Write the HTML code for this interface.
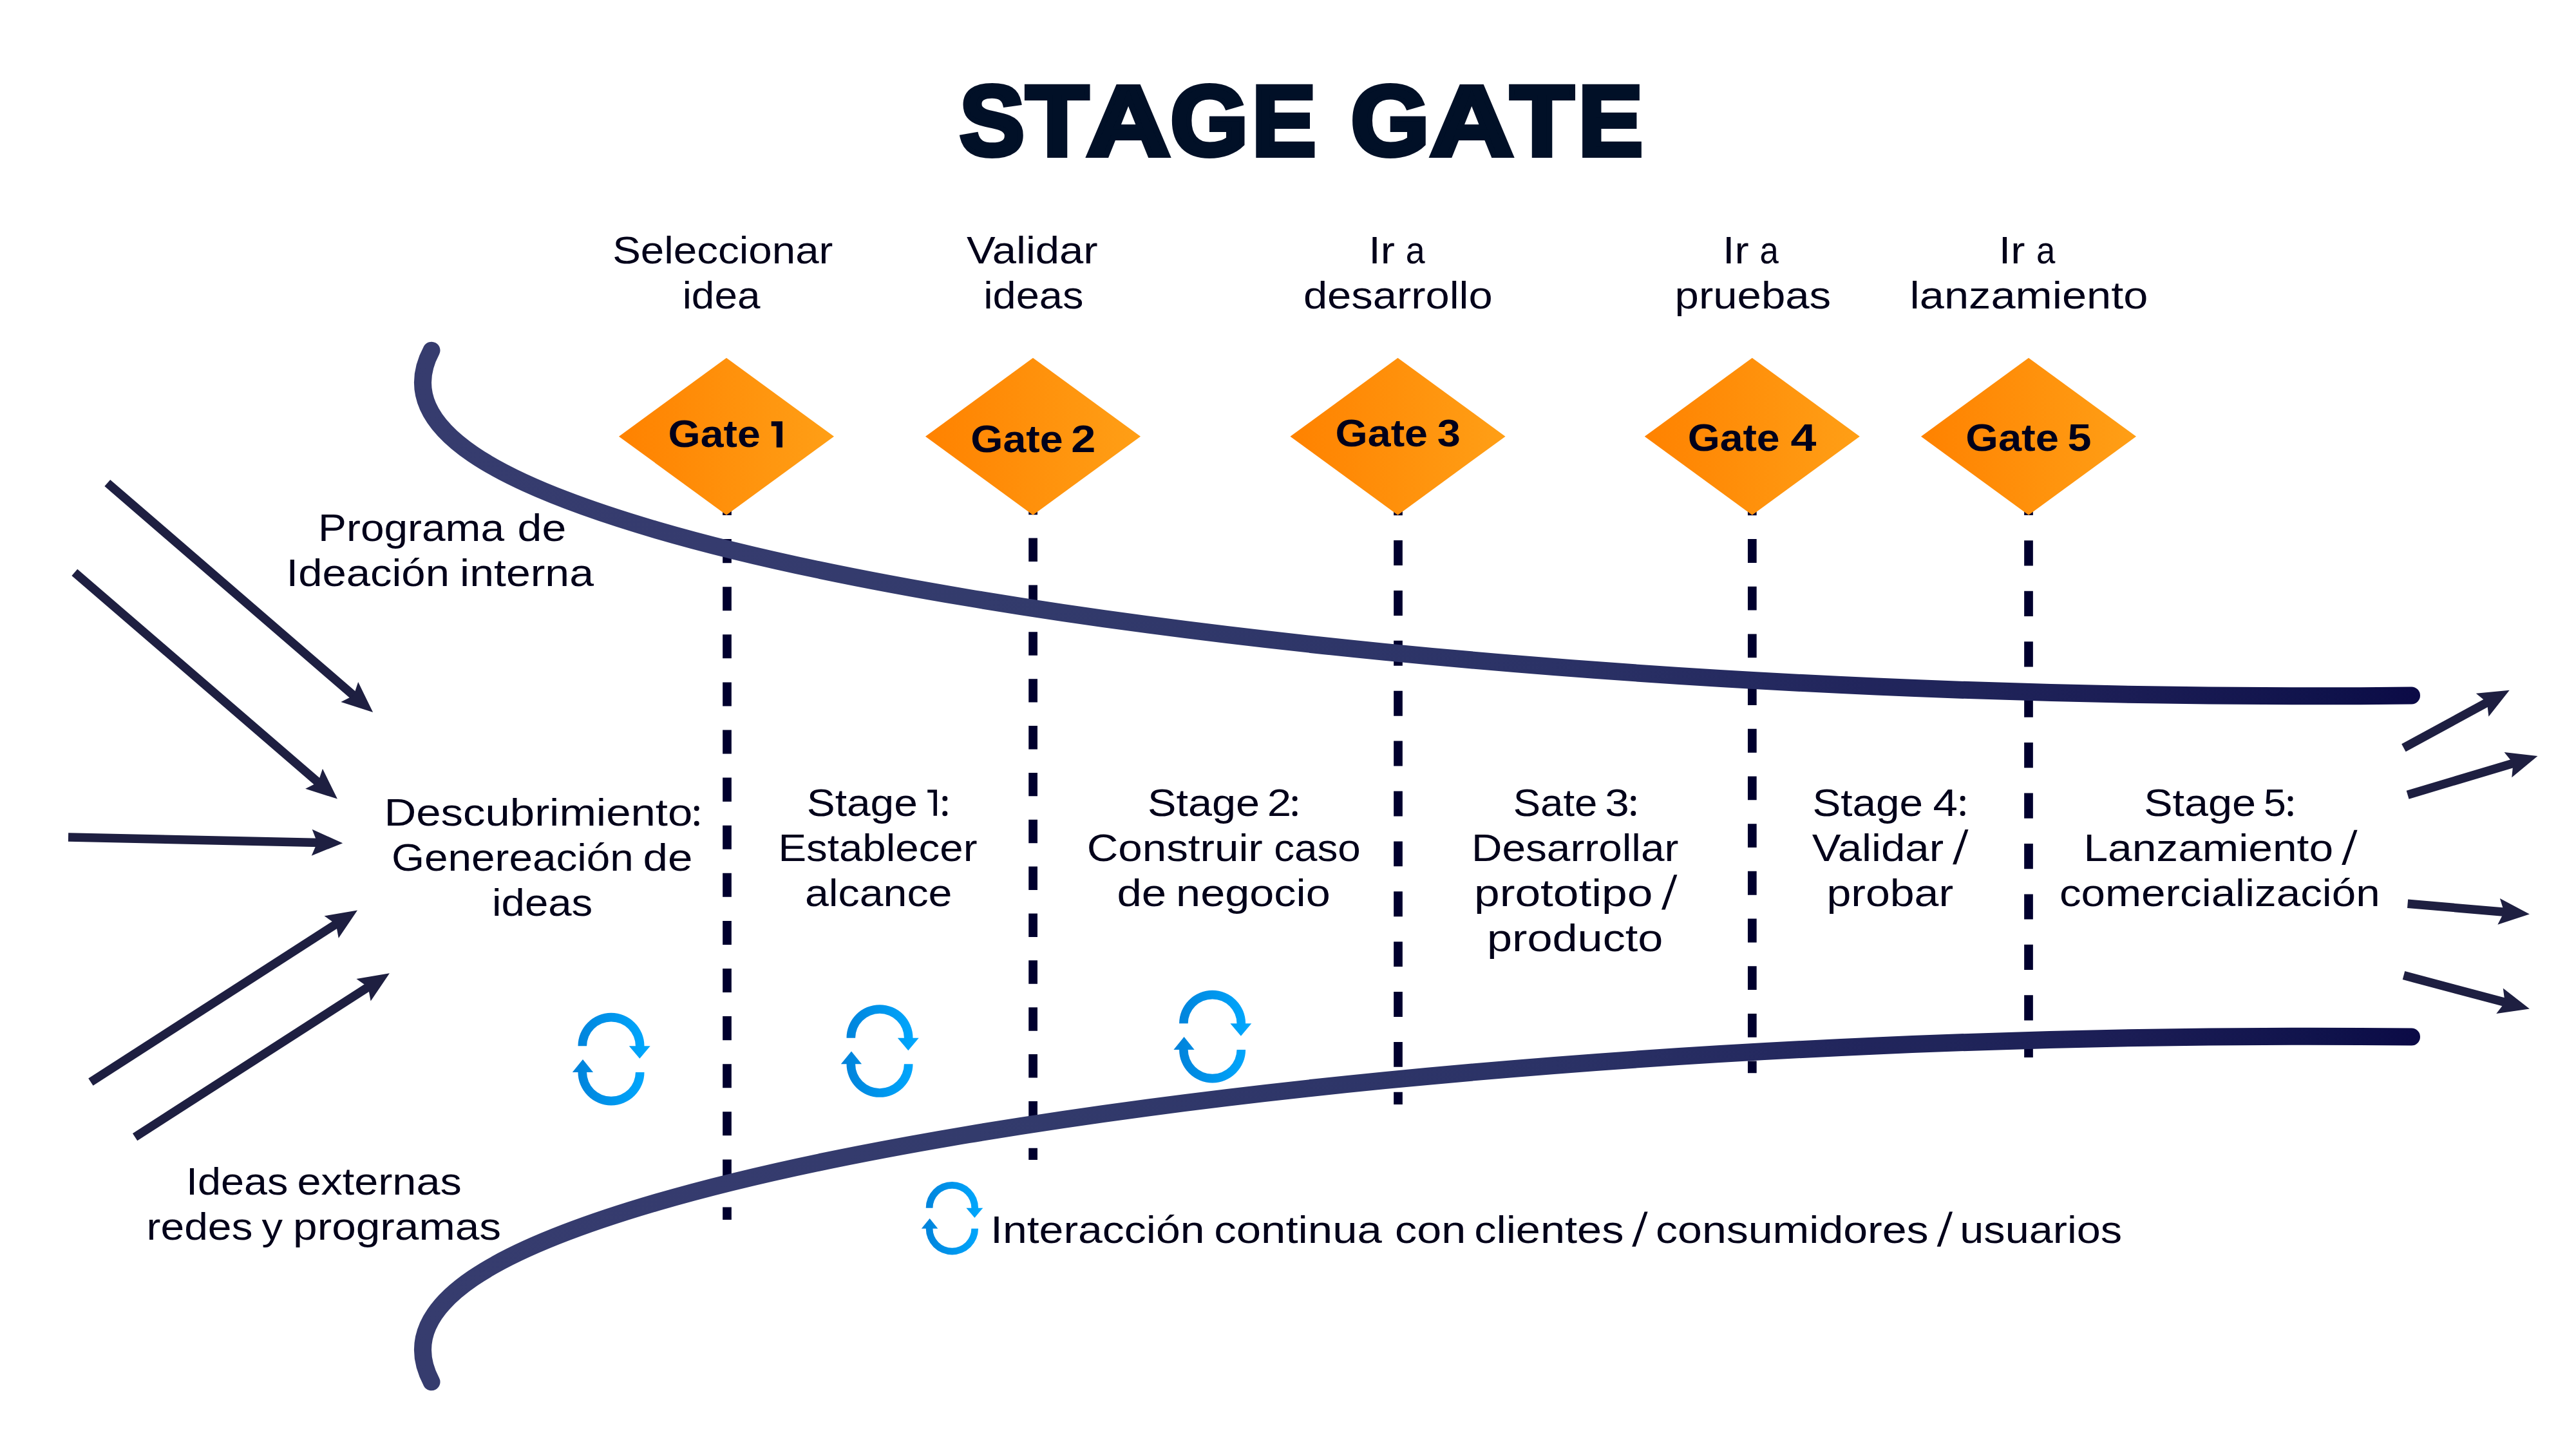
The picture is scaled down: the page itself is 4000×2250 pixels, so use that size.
<!DOCTYPE html>
<html><head><meta charset="utf-8"><title>Stage Gate</title>
<style>html,body{margin:0;padding:0;background:#fff;width:4000px;height:2250px;overflow:hidden}svg{display:block}text{font-family:"Liberation Sans",sans-serif}</style>
</head><body>
<svg width="4000" height="2250" viewBox="0 0 4000 2250">
<defs>
<linearGradient id="og" x1="0" y1="0" x2="1" y2="0"><stop offset="0" stop-color="#ff8200"/><stop offset="1" stop-color="#ff9f16"/></linearGradient>
<linearGradient id="cg" gradientUnits="userSpaceOnUse" x1="643" y1="0" x2="3758" y2="0"><stop offset="0" stop-color="#363c6e"/><stop offset="0.15" stop-color="#353b6e"/><stop offset="0.28" stop-color="#333b6c"/><stop offset="0.567" stop-color="#2b3266"/><stop offset="0.7245" stop-color="#21255c"/><stop offset="0.763" stop-color="#20255a"/><stop offset="0.853" stop-color="#1b1d55"/><stop offset="0.956" stop-color="#0f124b"/><stop offset="1" stop-color="#0b0a46"/></linearGradient>
<linearGradient id="bg" x1="0" y1="0" x2="1" y2="0"><stop offset="0" stop-color="#0081d9"/><stop offset="1" stop-color="#00a9ff"/></linearGradient>
<path id="ic" d="M-51.5,-20.3 A51.5,51.5 0 0 1 51.5,-20.3 L37.9,-20.3 A37.9,37.9 0 0 0 -37.9,-20.3 Z M27.8,-20.3 L60.7,-20.3 L44.3,-0.8 Z M-51.5,20.3 A51.5,51.5 0 0 0 51.5,20.3 L37.9,20.3 A37.9,37.9 0 0 1 -37.9,20.3 Z M-60.2,20.3 L-27.9,20.3 L-44,0.4 Z" fill="url(#bg)"/>
</defs>
<line x1="1129" y1="763" x2="1129" y2="1893.9" stroke="#00002e" stroke-width="13.7" stroke-dasharray="37.05 37.05"/>
<line x1="1604.1" y1="762.74" x2="1604.1" y2="1801" stroke="#00002e" stroke-width="13.7" stroke-dasharray="36.43 36.43"/>
<line x1="2171" y1="761.22" x2="2171" y2="1715" stroke="#00002e" stroke-width="13.7" stroke-dasharray="38.94 38.94"/>
<line x1="2720.8" y1="763.42" x2="2720.8" y2="1666.3" stroke="#00002e" stroke-width="13.7" stroke-dasharray="36.84 36.84"/>
<line x1="3150" y1="760.87" x2="3150" y2="1642" stroke="#00002e" stroke-width="13.7" stroke-dasharray="39.22 39.22"/>
<path d="M670,544.2 C603.57,668.83 791.45,756.26 1020.37,823.18 C1533.4,973.15 2612.34,1091.96 3744.5,1080" fill="none" stroke="url(#cg)" stroke-width="27" stroke-linecap="round"/>
<path d="M670,2145.8 C603.57,2021.17 791.45,1933.74 1020.37,1866.82 C1533.4,1716.85 2612.34,1598.04 3744.5,1610" fill="none" stroke="url(#cg)" stroke-width="27" stroke-linecap="round"/>
<polygon points="1128,555.7 1295,677.7 1128,799.7 961,677.7" fill="url(#og)"/>
<polygon points="1604,555.7 1771,677.7 1604,799.7 1437,677.7" fill="url(#og)"/>
<polygon points="2170.5,555.7 2337.5,677.7 2170.5,799.7 2003.5,677.7" fill="url(#og)"/>
<polygon points="2720.75,555.7 2887.75,677.7 2720.75,799.7 2553.75,677.7" fill="url(#og)"/>
<polygon points="3150,555.7 3317,677.7 3150,799.7 2983,677.7" fill="url(#og)"/>
<line x1="166.8" y1="750" x2="551.85" y2="1082.38" stroke="#1e1f41" stroke-width="13.5"/><polygon points="579.1,1105.9 556.16,1059.02 549.12,1080.02 529.37,1090.05" fill="#1e1f41"/>
<line x1="115.8" y1="888.8" x2="496.63" y2="1217.09" stroke="#1e1f41" stroke-width="13.5"/><polygon points="523.9,1240.6 500.93,1193.73 493.91,1214.74 474.16,1224.79" fill="#1e1f41"/>
<line x1="106" y1="1300" x2="496.21" y2="1308.42" stroke="#1e1f41" stroke-width="13.5"/><polygon points="532.2,1309.2 484.65,1287.67 492.61,1308.35 483.77,1328.66" fill="#1e1f41"/>
<line x1="140.9" y1="1680.1" x2="524.73" y2="1433.08" stroke="#1e1f41" stroke-width="13.5"/><polygon points="555,1413.6 503.54,1422.34 521.7,1435.03 525.73,1456.82" fill="#1e1f41"/>
<line x1="209.6" y1="1765.6" x2="574.62" y2="1530.78" stroke="#1e1f41" stroke-width="13.5"/><polygon points="604.9,1511.3 553.44,1520.03 571.6,1532.72 575.62,1554.51" fill="#1e1f41"/>
<line x1="3732.4" y1="1161.3" x2="3865.09" y2="1089.02" stroke="#1e1f41" stroke-width="13.5"/><polygon points="3896.7,1071.8 3844.74,1076.76 3861.92,1090.74 3864.35,1112.76" fill="#1e1f41"/>
<line x1="3738.6" y1="1234.2" x2="3905.91" y2="1184.21" stroke="#1e1f41" stroke-width="13.5"/><polygon points="3940.4,1173.9 3888.54,1168 3902.46,1185.24 3900.28,1207.28" fill="#1e1f41"/>
<line x1="3738.6" y1="1403.3" x2="3892.03" y2="1416.43" stroke="#1e1f41" stroke-width="13.5"/><polygon points="3927.9,1419.5 3881.82,1394.98 3888.44,1416.12 3878.33,1435.83" fill="#1e1f41"/>
<line x1="3732.5" y1="1514.6" x2="3893.11" y2="1557.34" stroke="#1e1f41" stroke-width="13.5"/><polygon points="3927.9,1566.6 3886.79,1534.45 3889.63,1556.42 3876.24,1574.07" fill="#1e1f41"/>
<use href="#ic" x="0" y="0" transform="translate(949 1644.6)"/>
<use href="#ic" x="0" y="0" transform="translate(1366 1632)"/>
<use href="#ic" x="0" y="0" transform="translate(1882.6 1609.6)"/>
<use href="#ic" transform="translate(1478.4 1891.7) scale(0.79)"/>
<text class="g0" x="1540.45" y="241.2" font-size="153.5" font-weight="700" fill="#011027" stroke="#011027" stroke-width="8" stroke-linejoin="miter" text-anchor="middle" textLength="100.5" lengthAdjust="spacingAndGlyphs">S</text>
<text class="g1" x="1641.65" y="241.2" font-size="153.5" font-weight="700" fill="#011027" stroke="#011027" stroke-width="8" stroke-linejoin="miter" text-anchor="middle" textLength="96.9" lengthAdjust="spacingAndGlyphs">T</text>
<text class="g0" x="1752.05" y="241.2" font-size="153.5" font-weight="700" fill="#011027" stroke="#011027" stroke-width="8" stroke-linejoin="miter" text-anchor="middle" textLength="129.3" lengthAdjust="spacingAndGlyphs">A</text>
<text class="g1" x="1877.8" y="241.2" font-size="153.5" font-weight="700" fill="#011027" stroke="#011027" stroke-width="8" stroke-linejoin="miter" text-anchor="middle" textLength="120.6" lengthAdjust="spacingAndGlyphs">G</text>
<text class="g0" x="1993.85" y="241.2" font-size="153.5" font-weight="700" fill="#011027" stroke="#011027" stroke-width="8" stroke-linejoin="miter" text-anchor="middle" textLength="99.1" lengthAdjust="spacingAndGlyphs">E</text>
<text class="g1" x="2158.6" y="241.2" font-size="153.5" font-weight="700" fill="#011027" stroke="#011027" stroke-width="8" stroke-linejoin="miter" text-anchor="middle" textLength="121.6" lengthAdjust="spacingAndGlyphs">G</text>
<text class="g0" x="2285.2" y="241.2" font-size="153.5" font-weight="700" fill="#011027" stroke="#011027" stroke-width="8" stroke-linejoin="miter" text-anchor="middle" textLength="129" lengthAdjust="spacingAndGlyphs">A</text>
<text class="g1" x="2394.65" y="241.2" font-size="153.5" font-weight="700" fill="#011027" stroke="#011027" stroke-width="8" stroke-linejoin="miter" text-anchor="middle" textLength="98.1" lengthAdjust="spacingAndGlyphs">T</text>
<text class="g0" x="2500.9" y="241.2" font-size="153.5" font-weight="700" fill="#011027" stroke="#011027" stroke-width="8" stroke-linejoin="miter" text-anchor="middle" textLength="99.8" lengthAdjust="spacingAndGlyphs">E</text>
<text class="g0" x="1122.3" y="409" font-size="59.3" font-weight="400" fill="#03021a" text-anchor="middle" textLength="342.2" lengthAdjust="spacingAndGlyphs">Seleccionar</text>
<text class="g0" x="1120.05" y="478.6" font-size="59.3" font-weight="400" fill="#03021a" text-anchor="middle" textLength="120.7" lengthAdjust="spacingAndGlyphs">idea</text>
<text class="g0" x="1602.85" y="408.8" font-size="59.3" font-weight="400" fill="#03021a" text-anchor="middle" textLength="203.7" lengthAdjust="spacingAndGlyphs">Validar</text>
<text class="g0" x="1604.8" y="478.9" font-size="59.3" font-weight="400" fill="#03021a" text-anchor="middle" textLength="155.2" lengthAdjust="spacingAndGlyphs">ideas</text>
<text class="g0" x="2145.65" y="408.9" font-size="59.3" font-weight="400" fill="#03021a" text-anchor="middle" textLength="40.7" lengthAdjust="spacingAndGlyphs">Ir</text>
<text class="g1" x="2197.65" y="408.9" font-size="59.3" font-weight="400" fill="#03021a" text-anchor="middle" textLength="29.9" lengthAdjust="spacingAndGlyphs">a</text>
<text class="g0" x="2170.8" y="478.7" font-size="59.3" font-weight="400" fill="#03021a" text-anchor="middle" textLength="293.8" lengthAdjust="spacingAndGlyphs">desarrollo</text>
<text class="g0" x="2695.35" y="409" font-size="59.3" font-weight="400" fill="#03021a" text-anchor="middle" textLength="40.7" lengthAdjust="spacingAndGlyphs">Ir</text>
<text class="g1" x="2747.05" y="409" font-size="59.3" font-weight="400" fill="#03021a" text-anchor="middle" textLength="29.3" lengthAdjust="spacingAndGlyphs">a</text>
<text class="g0" x="2721.85" y="478.7" font-size="59.3" font-weight="400" fill="#03021a" text-anchor="middle" textLength="242.5" lengthAdjust="spacingAndGlyphs">pruebas</text>
<text class="g0" x="3124.05" y="409" font-size="59.3" font-weight="400" fill="#03021a" text-anchor="middle" textLength="40.7" lengthAdjust="spacingAndGlyphs">Ir</text>
<text class="g1" x="3176.65" y="409" font-size="59.3" font-weight="400" fill="#03021a" text-anchor="middle" textLength="29.3" lengthAdjust="spacingAndGlyphs">a</text>
<text class="g0" x="3150.5" y="479" font-size="59.3" font-weight="400" fill="#03021a" text-anchor="middle" textLength="369.8" lengthAdjust="spacingAndGlyphs">lanzamiento</text>
<text class="g0" x="638.55" y="839.8" font-size="59.3" font-weight="400" fill="#03021a" text-anchor="middle" textLength="288.9" lengthAdjust="spacingAndGlyphs">Programa</text>
<text class="g1" x="841.4" y="839.8" font-size="59.3" font-weight="400" fill="#03021a" text-anchor="middle" textLength="75.6" lengthAdjust="spacingAndGlyphs">de</text>
<text class="g0" x="571.25" y="910" font-size="59.3" font-weight="400" fill="#03021a" text-anchor="middle" textLength="253.3" lengthAdjust="spacingAndGlyphs">Ideación</text>
<text class="g1" x="818.05" y="910" font-size="59.3" font-weight="400" fill="#03021a" text-anchor="middle" textLength="207.9" lengthAdjust="spacingAndGlyphs">interna</text>
<text class="g0" x="368.25" y="1855.3" font-size="59.3" font-weight="400" fill="#03021a" text-anchor="middle" textLength="158.3" lengthAdjust="spacingAndGlyphs">Ideas</text>
<text class="g1" x="589.05" y="1855.3" font-size="59.3" font-weight="400" fill="#03021a" text-anchor="middle" textLength="255.3" lengthAdjust="spacingAndGlyphs">externas</text>
<text class="g0" x="310" y="1925.1" font-size="59.3" font-weight="400" fill="#03021a" text-anchor="middle" textLength="164.8" lengthAdjust="spacingAndGlyphs">redes</text>
<text class="g1" x="422.75" y="1925.1" font-size="59.3" font-weight="400" fill="#03021a" text-anchor="middle" textLength="32.5" lengthAdjust="spacingAndGlyphs">y</text>
<text class="g0" x="616.6" y="1925.1" font-size="59.3" font-weight="400" fill="#03021a" text-anchor="middle" textLength="323" lengthAdjust="spacingAndGlyphs">programas</text>
<text class="g0" x="835.88" y="1282.2" font-size="59.3" font-weight="400" fill="#03021a" text-anchor="middle" textLength="478.95" lengthAdjust="spacingAndGlyphs">Descubrimiento</text>
<circle cx="1081.75" cy="1255.3" r="3.95" fill="#03021a"/><circle cx="1081.75" cy="1278.6" r="3.95" fill="#03021a"/>
<text class="g0" x="795.9" y="1352.2" font-size="59.3" font-weight="400" fill="#03021a" text-anchor="middle" textLength="376" lengthAdjust="spacingAndGlyphs">Genereación</text>
<text class="g1" x="1037" y="1352.2" font-size="59.3" font-weight="400" fill="#03021a" text-anchor="middle" textLength="77" lengthAdjust="spacingAndGlyphs">de</text>
<text class="g0" x="842.2" y="1421.9" font-size="59.3" font-weight="400" fill="#03021a" text-anchor="middle" textLength="156.2" lengthAdjust="spacingAndGlyphs">ideas</text>
<text class="g0" x="1338.8" y="1266.8" font-size="59.3" font-weight="400" fill="#03021a" text-anchor="middle" textLength="172" lengthAdjust="spacingAndGlyphs">Stage</text>
<path d="M1440.2,1226.3 H1454.91 V1266.8 H1449.53 V1230.8 H1440.2 Z" fill="#03021a"/><circle cx="1467.3" cy="1239.9" r="3.95" fill="#03021a"/><circle cx="1467.3" cy="1263.2" r="3.95" fill="#03021a"/>
<text class="g0" x="1362.95" y="1336.7" font-size="59.3" font-weight="400" fill="#03021a" text-anchor="middle" textLength="309.1" lengthAdjust="spacingAndGlyphs">Establecer</text>
<text class="g0" x="1364.25" y="1406.8" font-size="59.3" font-weight="400" fill="#03021a" text-anchor="middle" textLength="228.5" lengthAdjust="spacingAndGlyphs">alcance</text>
<text class="g0" x="1869.1" y="1267" font-size="59.3" font-weight="400" fill="#03021a" text-anchor="middle" textLength="174" lengthAdjust="spacingAndGlyphs">Stage</text>
<text class="g1" x="1986.38" y="1267" font-size="59.3" font-weight="400" fill="#03021a" text-anchor="middle" textLength="37.35" lengthAdjust="spacingAndGlyphs">2</text>
<circle cx="2010.65" cy="1240.1" r="3.95" fill="#03021a"/><circle cx="2010.65" cy="1263.4" r="3.95" fill="#03021a"/>
<text class="g0" x="1824.25" y="1337" font-size="59.3" font-weight="400" fill="#03021a" text-anchor="middle" textLength="273.1" lengthAdjust="spacingAndGlyphs">Construir</text>
<text class="g1" x="2045.5" y="1337" font-size="59.3" font-weight="400" fill="#03021a" text-anchor="middle" textLength="134.6" lengthAdjust="spacingAndGlyphs">caso</text>
<text class="g0" x="1772.85" y="1407.1" font-size="59.3" font-weight="400" fill="#03021a" text-anchor="middle" textLength="76.7" lengthAdjust="spacingAndGlyphs">de</text>
<text class="g1" x="1945.9" y="1407.1" font-size="59.3" font-weight="400" fill="#03021a" text-anchor="middle" textLength="239.6" lengthAdjust="spacingAndGlyphs">negocio</text>
<text class="g0" x="2415.05" y="1266.6" font-size="59.3" font-weight="400" fill="#03021a" text-anchor="middle" textLength="130.5" lengthAdjust="spacingAndGlyphs">Sate</text>
<text class="g1" x="2511.07" y="1266.6" font-size="59.3" font-weight="400" fill="#03021a" text-anchor="middle" textLength="37.55" lengthAdjust="spacingAndGlyphs">3</text>
<circle cx="2536.25" cy="1239.7" r="3.95" fill="#03021a"/><circle cx="2536.25" cy="1263" r="3.95" fill="#03021a"/>
<text class="g0" x="2445.7" y="1336.7" font-size="59.3" font-weight="400" fill="#03021a" text-anchor="middle" textLength="321.4" lengthAdjust="spacingAndGlyphs">Desarrollar</text>
<text class="g0" x="2427.7" y="1406.7" font-size="59.3" font-weight="400" fill="#03021a" text-anchor="middle" textLength="277.4" lengthAdjust="spacingAndGlyphs">prototipo</text>
<polygon points="2599.4,1358.2 2604.4,1358.2 2585.6,1412.5 2580,1412.5" fill="#03021a"/>
<text class="g0" x="2445.7" y="1476.8" font-size="59.3" font-weight="400" fill="#03021a" text-anchor="middle" textLength="273.4" lengthAdjust="spacingAndGlyphs">producto</text>
<text class="g0" x="2900.15" y="1266.7" font-size="59.3" font-weight="400" fill="#03021a" text-anchor="middle" textLength="171.5" lengthAdjust="spacingAndGlyphs">Stage</text>
<text class="g1" x="3020.82" y="1266.7" font-size="59.3" font-weight="400" fill="#03021a" text-anchor="middle" textLength="38.45" lengthAdjust="spacingAndGlyphs">4</text>
<circle cx="3047.65" cy="1239.8" r="3.95" fill="#03021a"/><circle cx="3047.65" cy="1263.1" r="3.95" fill="#03021a"/>
<text class="g0" x="2915.95" y="1336.5" font-size="59.3" font-weight="400" fill="#03021a" text-anchor="middle" textLength="204.3" lengthAdjust="spacingAndGlyphs">Validar</text>
<polygon points="3051.45,1288 3056.45,1288 3037.65,1342.3 3032.05,1342.3" fill="#03021a"/>
<text class="g0" x="2934.8" y="1406.8" font-size="59.3" font-weight="400" fill="#03021a" text-anchor="middle" textLength="196.6" lengthAdjust="spacingAndGlyphs">probar</text>
<text class="g0" x="3416.15" y="1267.1" font-size="59.3" font-weight="400" fill="#03021a" text-anchor="middle" textLength="173.9" lengthAdjust="spacingAndGlyphs">Stage</text>
<text class="g1" x="3532.38" y="1267.1" font-size="59.3" font-weight="400" fill="#03021a" text-anchor="middle" textLength="34.75" lengthAdjust="spacingAndGlyphs">5</text>
<circle cx="3556.55" cy="1240.2" r="3.95" fill="#03021a"/><circle cx="3556.55" cy="1263.5" r="3.95" fill="#03021a"/>
<text class="g0" x="3429.25" y="1337.3" font-size="59.3" font-weight="400" fill="#03021a" text-anchor="middle" textLength="387.7" lengthAdjust="spacingAndGlyphs">Lanzamiento</text>
<polygon points="3655.55,1288.8 3660.55,1288.8 3641.75,1343.1 3636.15,1343.1" fill="#03021a"/>
<text class="g0" x="3446.8" y="1407.1" font-size="59.3" font-weight="400" fill="#03021a" text-anchor="middle" textLength="497.8" lengthAdjust="spacingAndGlyphs">comercialización</text>
<text class="g0" x="1704.25" y="1930" font-size="59.3" font-weight="400" fill="#03021a" text-anchor="middle" textLength="332.5" lengthAdjust="spacingAndGlyphs">Interacción</text>
<text class="g1" x="2015.55" y="1930" font-size="59.3" font-weight="400" fill="#03021a" text-anchor="middle" textLength="260.5" lengthAdjust="spacingAndGlyphs">continua</text>
<text class="g0" x="2221.15" y="1930" font-size="59.3" font-weight="400" fill="#03021a" text-anchor="middle" textLength="110.1" lengthAdjust="spacingAndGlyphs">con</text>
<text class="g1" x="2405.3" y="1930" font-size="59.3" font-weight="400" fill="#03021a" text-anchor="middle" textLength="232.2" lengthAdjust="spacingAndGlyphs">clientes</text>
<polygon points="2553.6,1881.5 2558.6,1881.5 2539.8,1935.8 2534.2,1935.8" fill="#03021a"/>
<text class="g1" x="2782.85" y="1930" font-size="59.3" font-weight="400" fill="#03021a" text-anchor="middle" textLength="423.5" lengthAdjust="spacingAndGlyphs">consumidores</text>
<polygon points="3027.05,1881.5 3032.05,1881.5 3013.25,1935.8 3007.65,1935.8" fill="#03021a"/>
<text class="g1" x="3169.2" y="1930" font-size="59.3" font-weight="400" fill="#03021a" text-anchor="middle" textLength="251.8" lengthAdjust="spacingAndGlyphs">usuarios</text>
<text class="g0" x="1109.15" y="694.4" font-size="59" font-weight="700" fill="#01011a" text-anchor="middle" textLength="143.1" lengthAdjust="spacingAndGlyphs">Gate</text>
<path d="M1197.7,654.3 H1214.98 V694.7 H1205.68 V661.7 H1197.7 Z" fill="#01011a"/>
<text class="g0" x="1579" y="701.8" font-size="59" font-weight="700" fill="#01011a" text-anchor="middle" textLength="143.4" lengthAdjust="spacingAndGlyphs">Gate</text>
<text class="g1" x="1682.35" y="701.8" font-size="59" font-weight="700" fill="#01011a" text-anchor="middle" textLength="38.1" lengthAdjust="spacingAndGlyphs">2</text>
<text class="g0" x="2145.3" y="692.9" font-size="59" font-weight="700" fill="#01011a" text-anchor="middle" textLength="143.4" lengthAdjust="spacingAndGlyphs">Gate</text>
<text class="g1" x="2249.75" y="692.9" font-size="59" font-weight="700" fill="#01011a" text-anchor="middle" textLength="36.1" lengthAdjust="spacingAndGlyphs">3</text>
<text class="g0" x="2692.15" y="699.7" font-size="59" font-weight="700" fill="#01011a" text-anchor="middle" textLength="142.9" lengthAdjust="spacingAndGlyphs">Gate</text>
<text class="g1" x="2800.45" y="699.7" font-size="59" font-weight="700" fill="#01011a" text-anchor="middle" textLength="39.9" lengthAdjust="spacingAndGlyphs">4</text>
<text class="g0" x="3124.6" y="699.7" font-size="59" font-weight="700" fill="#01011a" text-anchor="middle" textLength="144.6" lengthAdjust="spacingAndGlyphs">Gate</text>
<text class="g1" x="3229" y="699.7" font-size="59" font-weight="700" fill="#01011a" text-anchor="middle" textLength="37" lengthAdjust="spacingAndGlyphs">5</text>
</svg>
</body></html>
